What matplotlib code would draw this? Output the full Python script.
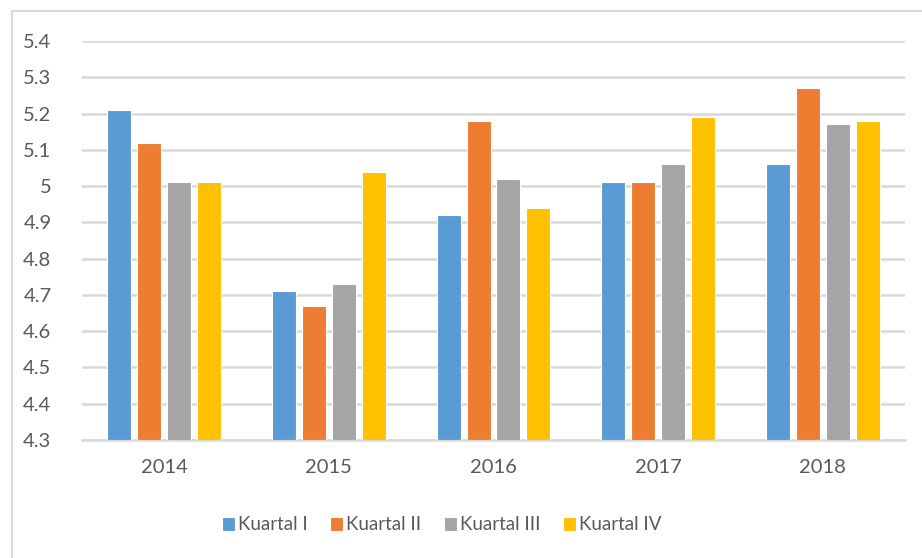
import matplotlib
matplotlib.use("Agg")
import matplotlib.pyplot as plt
import numpy as np
from matplotlib.patches import Rectangle

years = ["2014", "2015", "2016", "2017", "2018"]
series_names = ["Kuartal I", "Kuartal II", "Kuartal III", "Kuartal IV"]
kuartal_1 = [5.21, 4.71, 4.92, 5.01, 5.06]
kuartal_2 = [5.12, 4.67, 5.18, 5.01, 5.27]
kuartal_3 = [5.01, 4.73, 5.02, 5.06, 5.17]
kuartal_4 = [5.01, 5.04, 4.94, 5.19, 5.18]
y_ticks = [4.3, 4.4, 4.5, 4.6, 4.7, 4.8, 4.9, 5.0, 5.1, 5.2, 5.3, 5.4]
y_tick_labels = ["4.3", "4.4", "4.5", "4.6", "4.7", "4.8", "4.9", "5", "5.1", "5.2", "5.3", "5.4"]

colors = ["#5B9BD5", "#ED7D31", "#A5A5A5", "#FFC000"]
text_color = "#595959"
font = ["Lato", "DejaVu Sans"]

fig = plt.figure(figsize=(9.22, 5.58), dpi=100)
fig.patch.set_facecolor("white")
fig.patches.append(Rectangle((12 / 922, -0.01), 1.0, 1 - 11 / 558 + 0.01,
                             transform=fig.transFigure, fill=False,
                             edgecolor="#D9D9D9", linewidth=1.5))

ax = fig.add_axes([82 / 922, 1 - 440 / 558, (905 - 82) / 922, (440 - 41) / 558])
x = np.arange(len(years))
width = 0.146
step = 0.182
data = [kuartal_1, kuartal_2, kuartal_3, kuartal_4]
base = 4.3
for i, (name, vals, c) in enumerate(zip(series_names, data, colors)):
    offs = (i - 1.5) * step
    ax.bar(x + offs, np.array(vals) - base, width, bottom=base, color=c,
           edgecolor="white", linewidth=0.8, label=name, zorder=3)

ax.set_xlim(-0.5, len(years) - 0.5)
ax.set_ylim(4.3, 5.4)
ax.set_yticks(y_ticks)
ax.set_yticklabels(y_tick_labels)
ax.set_xticks(x)
ax.set_xticklabels(years)
ax.yaxis.grid(True, color="#D9D9D9", linewidth=1.8, zorder=0)
ax.set_axisbelow(True)
for s in ["top", "right", "left"]:
    ax.spines[s].set_visible(False)
ax.spines["bottom"].set_color("#D9D9D9")
ax.spines["bottom"].set_linewidth(1.8)
ax.tick_params(axis="both", length=0, colors=text_color, labelsize=14.5)
ax.tick_params(axis="y", pad=22)
ax.tick_params(axis="x", pad=14)
for lab in ax.get_xticklabels() + ax.get_yticklabels():
    lab.set_family(font)

leg = fig.legend(loc="center", bbox_to_anchor=(441.5 / 922, 1 - 525 / 558), ncol=4,
                 frameon=False, prop={"family": font, "size": 13.5},
                 handlelength=0.7, handleheight=0.7, handletextpad=0.15,
                 columnspacing=1.2, labelcolor=text_color)

fig.savefig("out.png", dpi=100, facecolor="white")
